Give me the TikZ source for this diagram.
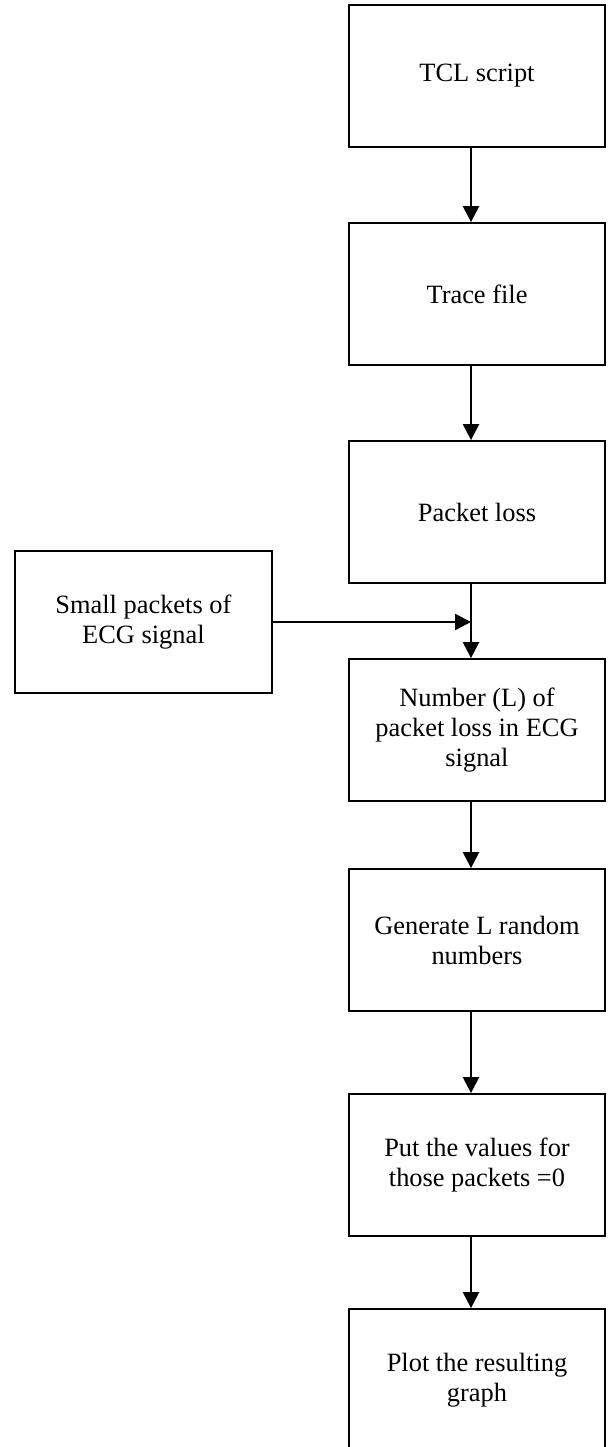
\documentclass[tikz,border=0pt]{standalone}
\usepackage{fontspec}
\setmainfont{Liberation Serif}
\usetikzlibrary{arrows.meta}

\begin{document}
\begin{tikzpicture}[x=1pt,y=-1pt,
  stepbox/.style={draw=black, line width=1.8pt, fill=white, rectangle,
    minimum width=256.5pt, minimum height=142pt, inner sep=0pt,
    align=center, font=\fontsize{26.4}{30}\selectfont},
  flow/.style={line width=2.4pt, -{Triangle[width=16pt,length=16pt]}}]

  % page frame; the last box runs past the lower edge
  \path[use as bounding box, clip] (0,0) rectangle (613,1447);
  \fill[white] (0,0) rectangle (613,1447);

  % main column
  \node[stepbox] (b1) at (477,76)   {TCL script};
  \node[stepbox] (b2) at (477,294)  {Trace file};
  \node[stepbox] (b3) at (477,512)  {Packet loss};
  \node[stepbox] (b4) at (477,730)  {Number (L) of\\packet loss in ECG\\signal};
  \node[stepbox] (b5) at (477,940)  {Generate L random\\numbers};
  \node[stepbox] (b6) at (477,1165) {Put the values for\\those packets =0};
  \node[stepbox] (b7) at (477,1380) {Plot the resulting\\graph};

  % side input
  \node[stepbox, minimum width=256.7pt] (src) at (143.4,622) {Small packets of\\ECG signal};

  % axis of the vertical connectors
  \coordinate (ax) at (471,0);

  \draw[flow] (b1.south -| ax) -- (b2.north -| ax);
  \draw[flow] (b2.south -| ax) -- (b3.north -| ax);
  \draw[flow] (b3.south -| ax) -- (b4.north -| ax);
  \draw[flow] (src.east) -- (src.east -| ax);
  \draw[flow] (b4.south -| ax) -- (b5.north -| ax);
  \draw[flow] (b5.south -| ax) -- (b6.north -| ax);
  \draw[flow] (b6.south -| ax) -- (b7.north -| ax);
\end{tikzpicture}
\end{document}
